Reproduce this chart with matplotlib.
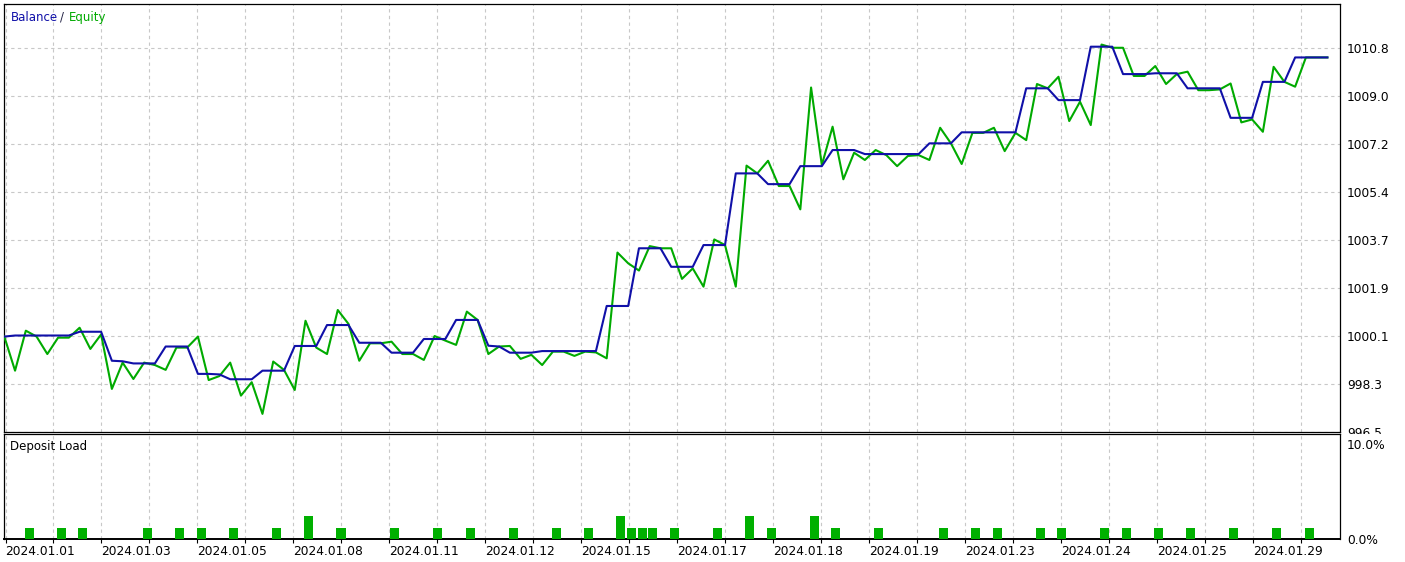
import matplotlib
matplotlib.use('Agg')

import numpy as np
import matplotlib.pyplot as plt
from matplotlib.patches import Rectangle

# ===== 数据（按成交序号读取）=====
equity = [
    1000.04, 998.77, 1000.26, 1000.04, 999.39, 1000.00, 1000.00, 1000.37, 999.58, 1000.12,
    998.09, 999.07, 998.46, 999.07, 998.98, 998.80, 999.63, 999.63, 1000.04, 998.42,
    998.57, 999.07, 997.84, 998.34, 997.16, 999.11, 998.80, 998.05, 1000.63, 999.63,
    999.39, 1001.03, 1000.51, 999.14, 999.79, 999.79, 999.85, 999.39, 999.39, 999.17,
    1000.06, 999.89, 999.73, 1000.97, 1000.66, 999.39, 999.67, 999.69, 999.21, 999.36,
    998.98, 999.48, 999.48, 999.32, 999.48, 999.45, 999.23, 1003.17, 1002.77, 1002.50,
    1003.41, 1003.33, 1003.33, 1002.19, 1002.58, 1001.90, 1003.66, 1003.45, 1001.90, 1006.41,
    1006.12, 1006.59, 1005.65, 1005.65, 1004.78, 1009.32, 1006.43, 1007.86, 1005.90, 1006.89,
    1006.62, 1006.99, 1006.80, 1006.39, 1006.77, 1006.80, 1006.62, 1007.82, 1007.24, 1006.47,
    1007.63, 1007.63, 1007.82, 1006.95, 1007.63, 1007.36, 1009.45, 1009.29, 1009.72, 1008.07,
    1008.79, 1007.92, 1010.92, 1010.80, 1010.80, 1009.75, 1009.75, 1010.12, 1009.45, 1009.82,
    1009.91, 1009.22, 1009.22, 1009.25, 1009.47, 1008.02, 1008.13, 1007.67, 1010.09, 1009.53,
    1009.35, 1010.44, 1010.44, 1010.44,
]

balance = [
    1000.04, 1000.08, 1000.08, 1000.08, 1000.08, 1000.08, 1000.08, 1000.22, 1000.22, 1000.22,
    999.14, 999.12, 999.04, 999.04, 999.04, 999.67, 999.67, 999.67, 998.65, 998.65,
    998.63, 998.45, 998.45, 998.45, 998.77, 998.77, 998.77, 999.69, 999.69, 999.69,
    1000.47, 1000.47, 1000.47, 999.81, 999.81, 999.81, 999.44, 999.44, 999.44, 999.95,
    999.95, 999.95, 1000.66, 1000.66, 1000.66, 999.70, 999.67, 999.44, 999.44, 999.44,
    999.50, 999.50, 999.50, 999.50, 999.50, 999.50, 1001.18, 1001.18, 1001.18, 1003.33,
    1003.33, 1003.33, 1002.64, 1002.64, 1002.64, 1003.45, 1003.45, 1003.45, 1006.12, 1006.12,
    1006.12, 1005.72, 1005.72, 1005.72, 1006.39, 1006.39, 1006.39, 1006.99, 1006.99, 1006.99,
    1006.84, 1006.84, 1006.84, 1006.84, 1006.84, 1006.84, 1007.24, 1007.24, 1007.24, 1007.65,
    1007.65, 1007.65, 1007.65, 1007.65, 1007.65, 1009.29, 1009.29, 1009.29, 1008.85, 1008.85,
    1008.85, 1010.84, 1010.84, 1010.84, 1009.82, 1009.82, 1009.82, 1009.85, 1009.85, 1009.85,
    1009.29, 1009.29, 1009.29, 1009.29, 1008.19, 1008.19, 1008.19, 1009.53, 1009.53, 1009.53,
    1010.44, 1010.44, 1010.44, 1010.44,
]

load_idx = [2, 5, 7, 13, 16, 18, 21, 25, 28, 31, 36, 40, 43, 47, 51, 54, 57, 58, 59, 60,
            62, 66, 69, 71, 75, 77, 81, 87, 90, 92, 96, 98, 102, 104, 107, 110, 114, 118, 121]
load_pct = [1.2, 1.2, 1.2, 1.2, 1.2, 1.2, 1.2, 1.2, 2.4, 1.2, 1.2, 1.2, 1.2, 1.2, 1.2, 1.2, 2.4, 1.2, 1.2, 1.2,
            1.2, 1.2, 2.4, 1.2, 2.4, 1.2, 1.2, 1.2, 1.2, 1.2, 1.2, 1.2, 1.2, 1.2, 1.2, 1.2, 1.2, 1.2, 1.2]

date_labels = ['2024.01.01', '2024.01.03', '2024.01.05', '2024.01.08', '2024.01.11',
               '2024.01.12', '2024.01.15', '2024.01.17', '2024.01.18', '2024.01.19',
               '2024.01.23', '2024.01.24', '2024.01.25', '2024.01.29']

ytick_labels = ['996.5', '998.3', '1000.1', '1001.9', '1003.7',
                '1005.4', '1007.2', '1009.0', '1010.8']
load_ticks = [0, 10]
load_tick_labels = ['0.0%', '10.0%']

# ===== 风格 =====
C_BAL = '#1010A8'
C_EQ = '#00AA00'
C_BAR = '#00B000'
C_GRID = '#C8C8C8'
FS = 8.8
plt.rcParams['font.family'] = ['DejaVu Sans']

W, H = 1405, 562
PX_STEP = 10.757        # 每个成交点的像素间距
GRID_PX = 48.0          # 网格像素间距
X0_PX = 4.3


def px_rect(x0, y0, x1, y1):
    return [x0 / W, 1 - y1 / H, (x1 - x0) / W, (y1 - y0) / H]


fig = plt.figure(figsize=(W / 100, H / 100), dpi=100)
fig.patch.set_facecolor('white')

ax = fig.add_axes(px_rect(X0_PX, 4.3, 1340, 432))
ax2 = fig.add_axes(px_rect(X0_PX, 434, 1340, 539))

xmax = (1340 - X0_PX) / PX_STEP
n_grid = 28
grid_pos = [(5.5 + GRID_PX * m - X0_PX) / PX_STEP for m in range(n_grid)]
grid_labels = [date_labels[m // 2] if m % 2 == 0 and m // 2 < len(date_labels) else ''
               for m in range(n_grid)]

# ----- 上图：Balance / Equity -----
x = np.arange(len(equity))
ax.plot(x, equity, color=C_EQ, lw=1.5, zorder=3)
ax.plot(x, balance, color=C_BAL, lw=1.5, zorder=4)

ystep = 1.7875
yticks = [996.5 + ystep * i for i in range(len(ytick_labels))]
ax.set_xlim(0, xmax)
ax.set_ylim(996.485, 1012.42)
ax.set_xticks(grid_pos)
ax.set_yticks(yticks)
ax.set_yticklabels(ytick_labels)
ax.yaxis.tick_right()
ax.tick_params(axis='x', length=0, labelbottom=False)
ax.tick_params(axis='y', length=0, pad=5, labelsize=FS, colors='black')
ax.grid(True, color=C_GRID, lw=0.8, linestyle=(0, (3, 3)))
for sp in ax.spines.values():
    sp.set_linewidth(0.9)

# ----- 下图：Deposit Load -----
ax2.bar(np.array(load_idx) - 0.12, load_pct, width=0.84, align='edge',
        color=C_BAR, zorder=3)
ax2.set_xlim(0, xmax)
ax2.set_ylim(0, 11.05)
ax2.set_yticks(load_ticks)
ax2.set_yticklabels(load_tick_labels)
ax2.yaxis.tick_right()
ax2.tick_params(axis='y', length=0, pad=5, labelsize=FS, colors='black')
ax2.set_xticks(grid_pos)
ax2.set_xticklabels(grid_labels)
ax2.tick_params(axis='x', direction='out', length=3, width=0.8, pad=1.5,
                labelsize=FS, colors='black')
for lbl in ax2.get_xticklabels():
    lbl.set_horizontalalignment('left')
ax2.grid(True, axis='x', color=C_GRID, lw=0.8, linestyle=(0, (3, 3)))
for sp in ax2.spines.values():
    sp.set_linewidth(0.9)
ax2.spines['bottom'].set_linewidth(1.4)

# 遮住 996.5 标签的下半部分
fig.patches.append(Rectangle((1342 / W, 1 - 439 / H), 63 / W, 5 / H,
                             transform=fig.transFigure, facecolor='white',
                             edgecolor='none', zorder=5))

# ----- 左上角标签 -----
ty = 1 - 17.3 / H
fig.text(10.7 / W, ty, 'Balance', color=C_BAL, fontsize=8.5, va='center')
fig.text(60 / W, ty, '/', color='#222244', fontsize=8.5, va='center')
fig.text(69.3 / W, ty, 'Equity', color=C_EQ, fontsize=8.5, va='center')
fig.text(10.5 / W, 1 - 446.7 / H, 'Deposit Load', color='black', fontsize=8.5, va='center')

plt.savefig('out.png', dpi=100, facecolor='white')
